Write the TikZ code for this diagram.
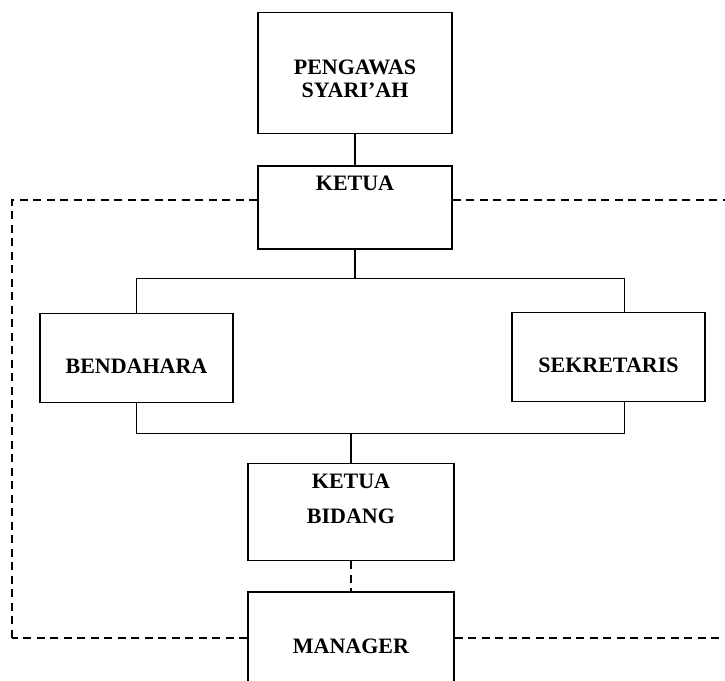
\documentclass[tikz,border=0pt]{standalone}
\usepackage{fontspec}
\setmainfont{Liberation Serif}
\usetikzlibrary{positioning}

\begin{document}
\begin{tikzpicture}[x=1pt, y=-1pt, node distance=30pt]
    \tikzstyle{unit} = [rectangle, draw=black, line width=1.3pt, inner sep=0pt, align=center, font=\fontsize{22}{23}\selectfont\bfseries]
    \tikzstyle{link} = [line width=1.3pt]
    \tikzstyle{loose} = [line width=1.3pt, dash pattern=on 8pt off 5.5pt]
    \useasboundingbox (0,0) rectangle (725,680);
    \node (pengawas) [unit, anchor=north, minimum width=194pt, text height=85pt, text depth=36pt] at (355,12) {PENGAWAS\\SYARI'AH};
    \node (ketua) [unit, below=31pt of pengawas, minimum width=194pt, text height=25pt, text depth=58pt] {KETUA};
    \node (bendahara) [unit, anchor=north, minimum width=193pt, text height=60pt, text depth=29pt] at (136.5,313) {BENDAHARA};
    \node (sekretaris) [unit, anchor=north, minimum width=193pt, text height=60pt, text depth=29pt] at (608.5,312) {SEKRETARIS};
    \node (bidang) [unit, anchor=north, minimum width=206pt, text height=60pt, text depth=37pt, font=\fontsize{22}{35}\selectfont\bfseries] at (351,463) {KETUA\\BIDANG};
    \node (manager) [unit, below=30pt of bidang, minimum width=206pt, text height=62pt, text depth=43pt] {MANAGER};
    \coordinate (tl) at (12,200);
    \coordinate (bl) at (12,638);
    \coordinate (tr) at (725,200);
    \coordinate (br) at (725,638);
    \draw [link] (pengawas) -- (ketua);
    \draw [link] (ketua.south) -- ++(0,29) -| (bendahara.north);
    \draw [link] (ketua.south) -- ++(0,29) -| ([xshift=16pt]sekretaris.north);
    \draw [link] (bendahara.south) -- ++(0,30) coordinate (joint) -| ([xshift=16pt]sekretaris.south);
    \draw [link] (bidang.north) -- (bidang.north |- joint);
    \draw [loose] (bidang) -- (manager);
    \draw [loose] (tl -| ketua.west) -- (tl) -- (bl);
    \draw [loose] (bl -| manager.west) -- (bl);
    \draw [loose] (tl -| ketua.east) -- (tr);
    \draw [loose] (bl -| manager.east) -- (br);
\end{tikzpicture}
\end{document}
